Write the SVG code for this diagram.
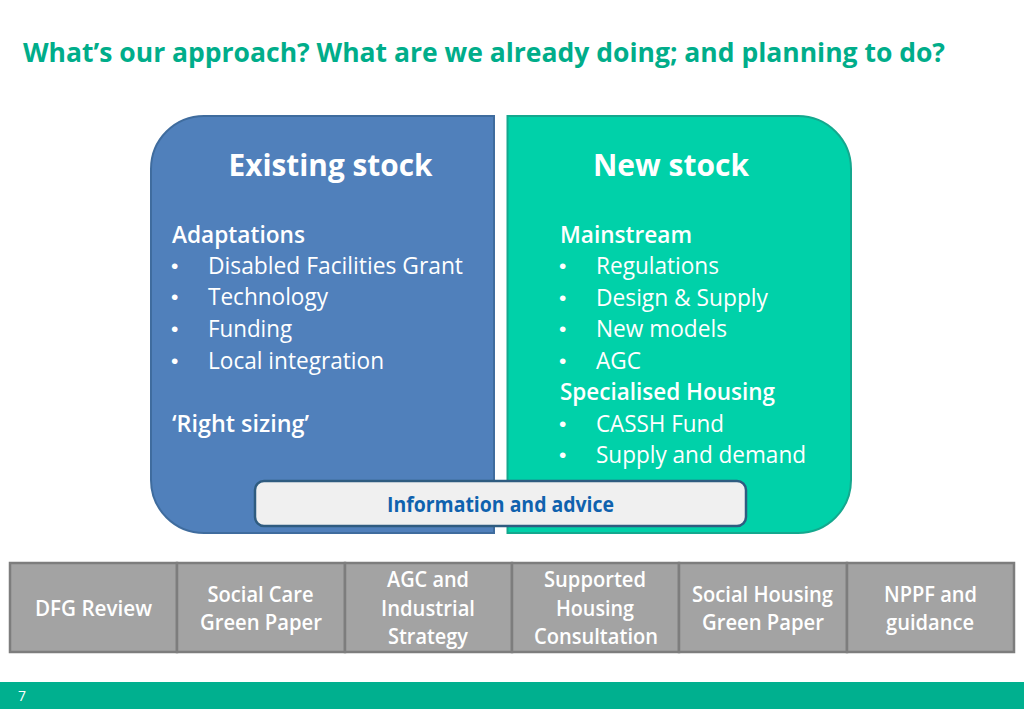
<svg xmlns="http://www.w3.org/2000/svg" width="1024" height="709" viewBox="0 0 1024 709">
<style>
text{font-family:"Open Sans","Noto Sans","Liberation Sans",sans-serif}
.w{fill:#fff;font-size:23.5px}
.d{fill:#fff;font-size:21px;font-family:"Liberation Sans",sans-serif}
.b{font-weight:600}
.h{font-size:31px;font-weight:700;fill:#fff;text-anchor:middle}
.c{fill:#fff;font-size:21.5px;font-weight:600;text-anchor:middle}
.bx{fill:#a3a3a3;stroke:#7d7d7d;stroke-width:2.500}
</style>
<rect width="1024" height="709" fill="#fff"/>
<text x="23" y="62" font-size="27.5" font-weight="700" fill="#00ad8a" textLength="922" lengthAdjust="spacingAndGlyphs">What’s our approach? What are we already doing; and planning to do?</text>
<g id="existing">
<path d="M494 116V533H204A53 53 0 0 1 151 480V169A53 53 0 0 1 204 116Z" fill="#5080bb" stroke="#3f6c9e" stroke-width="2"/>
<text class="h" x="330.500" y="176" textLength="204" lengthAdjust="spacingAndGlyphs">Existing stock</text>
<text class="w b" x="172" y="243" textLength="133" lengthAdjust="spacingAndGlyphs">Adaptations</text>
<text class="d" x="171" y="273">•</text><text class="w" x="208" y="274" textLength="255" lengthAdjust="spacingAndGlyphs">Disabled Facilities Grant</text>
<text class="d" x="171" y="304">•</text><text class="w" x="208" y="305" textLength="120" lengthAdjust="spacingAndGlyphs">Technology</text>
<text class="d" x="171" y="336">•</text><text class="w" x="208" y="337" textLength="84" lengthAdjust="spacingAndGlyphs">Funding</text>
<text class="d" x="171" y="368">•</text><text class="w" x="208" y="369" textLength="176" lengthAdjust="spacingAndGlyphs">Local integration</text>
<text class="w b" x="172" y="432" textLength="137" lengthAdjust="spacingAndGlyphs">‘Right sizing’</text>
</g>
<g id="new">
<path d="M507.500 116V533H798A53 53 0 0 0 851 480V169A53 53 0 0 0 798 116Z" fill="#00d1a9" stroke="#14a88e" stroke-width="2"/>
<text class="h" x="671" y="176" textLength="156" lengthAdjust="spacingAndGlyphs">New stock</text>
<text class="w b" x="560" y="243" textLength="132" lengthAdjust="spacingAndGlyphs">Mainstream</text>
<text class="d" x="559" y="273">•</text><text class="w" x="596" y="274" textLength="123" lengthAdjust="spacingAndGlyphs">Regulations</text>
<text class="d" x="559" y="305">•</text><text class="w" x="596" y="306" textLength="172" lengthAdjust="spacingAndGlyphs">Design &amp; Supply</text>
<text class="d" x="559" y="336">•</text><text class="w" x="596" y="337" textLength="131" lengthAdjust="spacingAndGlyphs">New models</text>
<text class="d" x="559" y="368">•</text><text class="w" x="596" y="369" textLength="45" lengthAdjust="spacingAndGlyphs">AGC</text>
<text class="w b" x="560" y="400" textLength="215" lengthAdjust="spacingAndGlyphs">Specialised Housing</text>
<text class="d" x="559" y="431">•</text><text class="w" x="596" y="432" textLength="128" lengthAdjust="spacingAndGlyphs">CASSH Fund</text>
<text class="d" x="559" y="462">•</text><text class="w" x="596" y="463" textLength="210" lengthAdjust="spacingAndGlyphs">Supply and demand</text>
</g>
<g id="info">
<rect x="255" y="481" width="491" height="45" rx="9" fill="#f0f0f0" stroke="#2f5c80" stroke-width="2.500"/>
<text x="500.500" y="512" font-size="21.500" font-weight="700" fill="#0f62ae" text-anchor="middle" textLength="227" lengthAdjust="spacingAndGlyphs">Information and advice</text>
</g>
<g id="n1"><rect class="bx" x="10" y="563" width="167" height="89"/><text class="c" x="93.500" y="616" textLength="117" lengthAdjust="spacingAndGlyphs">DFG Review</text></g>
<g id="n2"><rect class="bx" x="177" y="563" width="168" height="89"/><text class="c" x="260.500" y="602" textLength="106" lengthAdjust="spacingAndGlyphs">Social Care</text><text class="c" x="261" y="630" textLength="122" lengthAdjust="spacingAndGlyphs">Green Paper</text></g>
<g id="n3"><rect class="bx" x="345" y="563" width="167" height="89"/><text class="c" x="428" y="587" textLength="82" lengthAdjust="spacingAndGlyphs">AGC and</text><text class="c" x="428" y="616" textLength="94" lengthAdjust="spacingAndGlyphs">Industrial</text><text class="c" x="428" y="644" textLength="80" lengthAdjust="spacingAndGlyphs">Strategy</text></g>
<g id="n4"><rect class="bx" x="512" y="563" width="167" height="89"/><text class="c" x="595" y="587" textLength="102" lengthAdjust="spacingAndGlyphs">Supported</text><text class="c" x="595" y="616" textLength="78" lengthAdjust="spacingAndGlyphs">Housing</text><text class="c" x="596" y="644" textLength="124" lengthAdjust="spacingAndGlyphs">Consultation</text></g>
<g id="n5"><rect class="bx" x="679" y="563" width="168" height="89"/><text class="c" x="762.500" y="602" textLength="141" lengthAdjust="spacingAndGlyphs">Social Housing</text><text class="c" x="763" y="630" textLength="122" lengthAdjust="spacingAndGlyphs">Green Paper</text></g>
<g id="n6"><rect class="bx" x="847" y="563" width="167" height="89"/><text class="c" x="930.500" y="602" textLength="93" lengthAdjust="spacingAndGlyphs">NPPF and</text><text class="c" x="930" y="630" textLength="88" lengthAdjust="spacingAndGlyphs">guidance</text></g>
<g id="connectors"/>
<rect y="682" width="1024" height="27" fill="#00b08f"/>
<text x="18" y="701" font-size="14" fill="#fff">7</text>
</svg>
